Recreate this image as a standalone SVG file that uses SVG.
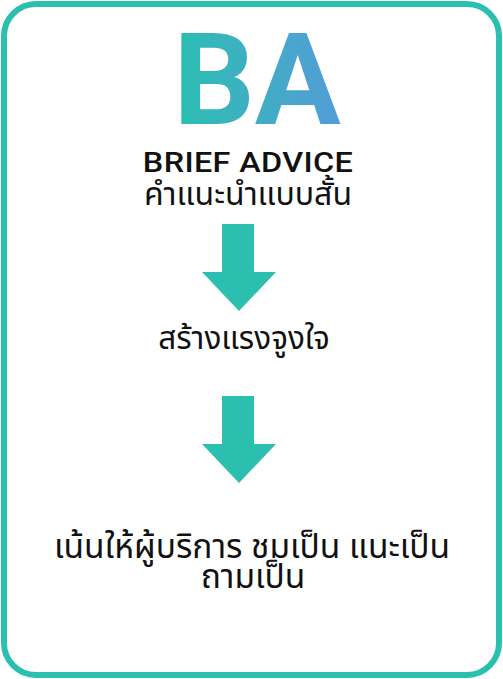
<svg xmlns="http://www.w3.org/2000/svg" width="503" height="679" viewBox="0 0 503 679">
<defs>
<linearGradient id="g" x1="0" y1="0" x2="1" y2="0" gradientUnits="objectBoundingBox">
<stop offset="0" stop-color="#2bbfb1"/>
<stop offset="1" stop-color="#549cd8"/>
</linearGradient>
<style>
.t{font-family:"Noto Sans Thai","Noto Sans","DejaVu Sans",sans-serif;fill:#111;text-anchor:middle}
.arrow{fill:#2bbfb0}
</style>
</defs>
<rect x="4" y="4" width="495" height="671" rx="32" fill="#fff" stroke="#2bbfb0" stroke-width="6"/>
<g id="title">
<text x="257" y="124" font-family="Roboto,sans-serif" font-weight="700" font-size="128" text-anchor="middle" fill="url(#g)">BA</text>
<text transform="translate(248 172) scale(1.2 1)" x="0" y="0" font-family="Roboto,sans-serif" font-weight="500" font-size="27" text-anchor="middle" fill="#111" letter-spacing="0.3">BRIEF ADVICE</text>
<text class="t" x="248" y="205" font-size="32">คำแนะนำแบบสั้น</text>
</g>
<g id="connectors">
<path class="arrow" d="M222 224H254V272H276L239 311L202 272H222Z"/>
<path class="arrow" d="M222 396H254V444H276L239 483L202 444H222Z"/>
</g>
<g id="motivate">
<text class="t" x="244" y="349" font-size="31.5">สร้างแรงจูงใจ</text>
</g>
<g id="focus">
<text class="t" x="252" y="558" font-size="33.5">เน้นให้ผู้บริการ ชมเป็น แนะเป็น</text>
<text class="t" x="253" y="588" font-size="33.5">ถามเป็น</text>
</g>
</svg>
